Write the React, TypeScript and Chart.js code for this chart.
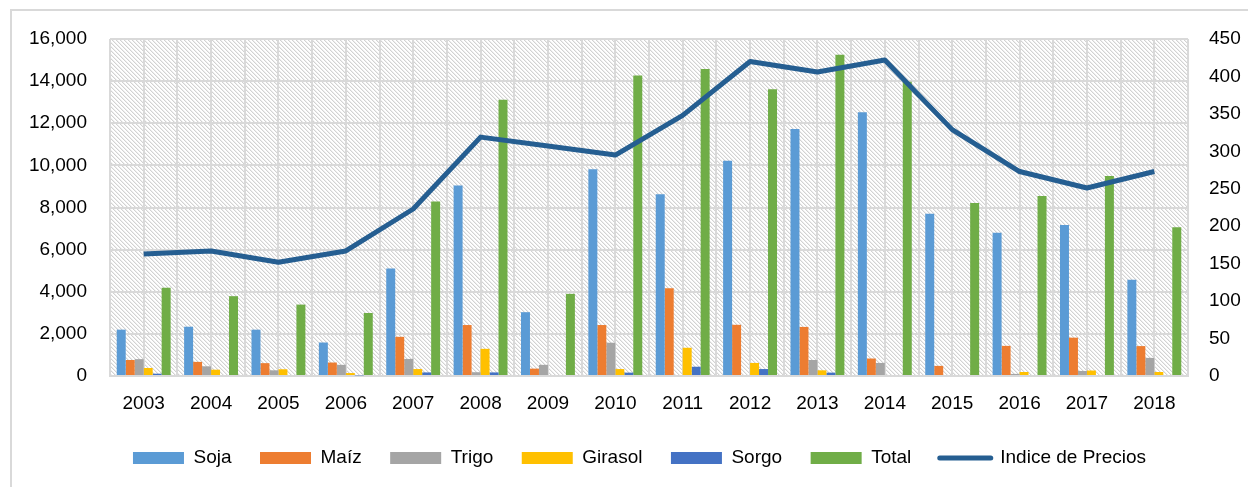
import React, { useEffect, useRef } from "react";
import { Chart, registerables } from "chart.js";

Chart.register(...registerables);

const years = ["2003", "2004", "2005", "2006", "2007", "2008", "2009", "2010", "2011", "2012", "2013", "2014", "2015", "2016", "2017", "2018"];
const soja = [2200, 2340, 2200, 1590, 5100, 9050, 3030, 9820, 8630, 10220, 11730, 12520, 7700, 6800, 7170, 4570];
const maiz = [760, 670, 610, 640, 1860, 2420, 350, 2420, 4170, 2430, 2330, 830, 480, 1430, 1820, 1420];
const trigo = [800, 460, 270, 530, 810, 180, 530, 1580, 0, 0, 760, 620, 0, 100, 240, 860];
const girasol = [380, 300, 320, 140, 330, 1290, 0, 330, 1340, 620, 270, 0, 0, 190, 260, 190];
const sorgo = [110, 0, 0, 30, 170, 170, 0, 160, 440, 330, 160, 0, 0, 0, 0, 0];
const total = [4190, 3790, 3390, 2990, 8280, 13120, 3900, 14270, 14570, 13610, 15250, 13970, 8210, 8550, 9500, 7060];
const indicePrecios = [163, 167, 152, 167, 223, 319, 307, 295, 348, 420, 406, 422, 329, 273, 251, 273];

const leftTicks = [0, 2000, 4000, 6000, 8000, 10000, 12000, 14000, 16000];
const rightTicks = [0, 50, 100, 150, 200, 250, 300, 350, 400, 450];

const FONT = "'Liberation Sans', Arial, sans-serif";
const FS = 19;
const GRID = "#d9d9d9";

function makePattern(ctx: CanvasRenderingContext2D) {
  const c = document.createElement("canvas");
  c.width = 4;
  c.height = 4;
  const p = c.getContext("2d")!;
  p.fillStyle = "#ffffff";
  p.fillRect(0, 0, 4, 4);
  for (let y = 0; y < 4; y++) {
    for (let x = 0; x < 4; x++) {
      const d = (((x - y) % 4) + 4) % 4;
      if (d === 0) {
        p.fillStyle = "#d2d2d2";
        p.fillRect(x, y, 1, 1);
      } else if (d === 1) {
        p.fillStyle = "#eeeeee";
        p.fillRect(x, y, 1, 1);
      }
    }
  }
  return ctx.createPattern(c, "repeat");
}

const hatchPlugin = {
  id: "hatch",
  beforeDraw(chart: any) {
    const { ctx, chartArea } = chart;
    const pat = makePattern(ctx);
    if (!pat) return;
    ctx.save();
    ctx.fillStyle = pat;
    ctx.fillRect(chartArea.left, chartArea.top, chartArea.right - chartArea.left, chartArea.bottom - chartArea.top);
    ctx.restore();
  },
};

const legendShift = {
  id: "legendShift",
  afterLayout(chart: any) {
    const lg = chart.legend;
    if (lg) {
      lg.top -= 9.5;
      lg.bottom -= 9.5;
      lg.left += 4.5;
      lg.right += 4.5;
    }
  },
};

export default function App() {
  const ref = useRef<HTMLCanvasElement>(null);

  useEffect(() => {
    if (!ref.current) return;
    const barSeries = [
      { label: "Soja", data: soja, color: "#5B9BD5" },
      { label: "Maíz", data: maiz, color: "#ED7D31" },
      { label: "Trigo", data: trigo, color: "#A5A5A5" },
      { label: "Girasol", data: girasol, color: "#FFC000" },
      { label: "Sorgo", data: sorgo, color: "#4472C4" },
      { label: "Total", data: total, color: "#70AD47" },
    ];
    const datasets: any[] = barSeries.map((s) => ({
      type: "bar",
      label: s.label,
      data: s.data,
      backgroundColor: s.color,
      borderWidth: 0,
      xAxisID: "x",
      yAxisID: "y",
      categoryPercentage: 0.8,
      barPercentage: 1.0,
      order: 1,
    }));
    datasets.push({
      type: "line",
      label: "Indice de Precios",
      data: indicePrecios,
      borderColor: "#255E91",
      backgroundColor: "#255E91",
      borderWidth: 5,
      pointRadius: 0,
      tension: 0,
      xAxisID: "x",
      yAxisID: "y1",
      order: 0,
      borderJoinStyle: "round",
    });

    const chart = new Chart(ref.current, {
      type: "bar",
      data: { labels: years, datasets },
      plugins: [hatchPlugin, legendShift],
      options: {
        animation: false,
        responsive: true,
        maintainAspectRatio: false,
        layout: { padding: { left: 29, right: 7, top: 39, bottom: 0 } },
        plugins: {
          tooltip: { enabled: false },
          legend: {
            display: true,
            position: "bottom",
            labels: {
              color: "#000",
              font: { family: FONT, size: FS },
              usePointStyle: true,
              pointStyleWidth: 51,
              boxHeight: 12,
              padding: 28.5,
              generateLabels: (ch: any) =>
                ch.data.datasets.map((ds: any, i: number) => {
                  const isLine = ds.type === "line";
                  return {
                    text: ds.label,
                    fillStyle: ds.backgroundColor,
                    strokeStyle: isLine ? ds.borderColor : ds.backgroundColor,
                    lineWidth: isLine ? 5 : 0,
                    lineCap: "round",
                    pointStyle: isLine ? "line" : "rect",
                    hidden: false,
                    datasetIndex: i,
                    fontColor: "#000",
                  };
                }),
            },
          },
        },
        scales: {
          x: {
            type: "category",
            position: "bottom",
            offset: true,
            grid: { display: true, color: GRID, lineWidth: 2, offset: true, drawTicks: false },
            border: { display: true, color: GRID, width: 2 },
            ticks: { color: "#000", font: { family: FONT, size: FS }, padding: 16.6, maxRotation: 0, autoSkip: false },
            afterFit: (s: any) => {
              s.height = 53.5;
            },
          },
          x2: {
            type: "category",
            position: "top",
            offset: true,
            labels: years,
            grid: { display: true, color: GRID, lineWidth: 2, offset: false, drawTicks: false },
            border: { display: false },
            ticks: { display: false },
          },
          y: {
            type: "linear",
            position: "left",
            min: 0,
            max: 16000,
            afterBuildTicks: (s: any) => {
              s.ticks = leftTicks.map((v) => ({ value: v }));
            },
            afterFit: (s: any) => {
              s.width = 81;
            },
            grid: { display: true, color: GRID, lineWidth: 2, drawTicks: false },
            border: { display: false },
            ticks: {
              color: "#000",
              font: { family: FONT, size: FS },
              padding: 23,
              callback: (v: any) => Number(v).toLocaleString("en-US"),
            },
          },
          y1: {
            type: "linear",
            position: "right",
            min: 0,
            max: 450,
            afterBuildTicks: (s: any) => {
              s.ticks = rightTicks.map((v) => ({ value: v }));
            },
            afterFit: (s: any) => {
              s.width = 53;
            },
            grid: { display: false, drawTicks: false },
            border: { display: false },
            ticks: { color: "#000", font: { family: FONT, size: FS }, padding: 21 },
          },
        },
      },
    } as any);
    return () => chart.destroy();
  }, []);

  return (
    <div style={{ position: "fixed", left: 0, top: 0, width: 1248, height: 487, background: "#fff", overflow: "hidden" }}>
      <canvas ref={ref} style={{ position: "absolute", left: 0, top: 0, width: 1248, height: 487 }} />
      <div
        style={{
          position: "absolute",
          left: 10,
          top: 9,
          width: 1400,
          height: 700,
          border: "2px solid #d9d9d9",
          pointerEvents: "none",
        }}
      />
    </div>
  );
}
